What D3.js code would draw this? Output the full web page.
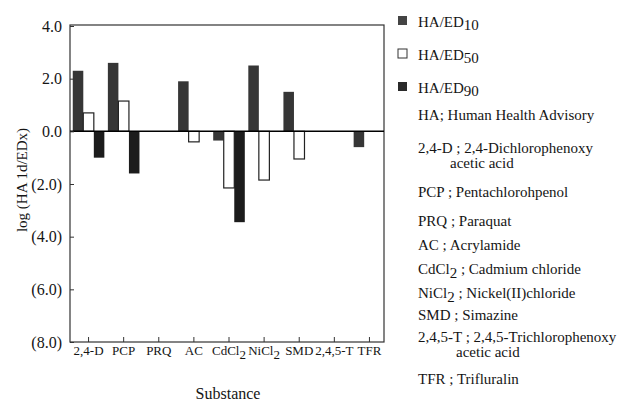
<!DOCTYPE html>
<html>
<head>
<meta charset="utf-8">
<script src="https://cdn.jsdelivr.net/npm/d3@7"></script>
<style>
  body { margin: 0; background: #fff; }
  svg { display: block; font-family: "Liberation Serif", "Times New Roman", serif; }
</style>
</head>
<body>
<div id="chart"></div>
<script>
// DATA
const categories = ["2,4-D", "PCP", "PRQ", "AC", "CdCl2", "NiCl2", "SMD", "2,4,5-T", "TFR"];
const seriesNames = ["ED10", "ED50", "ED90"];
const ed10 = [2.3, 2.6, null, 1.9, -0.35, 2.5, 1.5, null, -0.6];
const ed50 = [0.7, 1.15, null, -0.4, -2.15, -1.85, -1.05, null, null];
const ed90 = [-1.0, -1.6, null, null, -3.45, null, null, null, null];
const yTicks = [4, 2, 0, -2, -4, -6, -8];
const notes = [
  ["HA; Human Health Advisory"],
  ["2,4-D ; 2,4-Dichlorophenoxy", "acetic acid"],
  ["PCP ; Pentachlorohpenol"],
  ["PRQ ; Paraquat"],
  ["AC ; Acrylamide"],
  ["CdCl2 ; Cadmium chloride"],
  ["NiCl2 ; Nickel(II)chloride"],
  ["SMD ; Simazine"],
  ["2,4,5-T ; 2,4,5-Trichlorophenoxy", "acetic acid"],
  ["TFR ; Trifluralin"]
];

const W = 622, H = 404;
const mLeft = 70, mRight = 384, mTop = 25, mBottom = 342;
const ink = "#151515";

const fills = {ED10: "#363636", ED50: "#ffffff", ED90: "#1c1c1c"};
const legendFills = {ED10: "#444", ED50: "#ffffff", ED90: "#2a2a2a"};

const rows = [];
[ed10, ed50, ed90].forEach((arr, si) => {
  arr.forEach((v, i) => {
    if (v !== null) rows.push({cat: categories[i], s: seriesNames[si], v: v});
  });
});

const svg = d3.select("#chart").append("svg")
  .attr("width", W).attr("height", H);

const x0 = d3.scaleBand().domain(categories).range([mLeft + 1, mLeft + 317]).paddingInner(0.1).paddingOuter(0.05);
const x1 = d3.scaleBand().domain(seriesNames).range([0, x0.bandwidth()]);
const y = d3.scaleLinear().domain([-8, 4]).range([mBottom, mTop + 1]);

// helper: text with "Cl2" style subscripts
function subText(sel, str, shift) {
  const m = str.match(/^(.*?Cl)(2)(\s;.*)?$/);
  if (m) {
    sel.append("tspan").text(m[1]);
    sel.append("tspan").attr("dy", shift).text("2");
    if (m[3]) sel.append("tspan").attr("dy", -shift).text(m[3]);
  } else {
    sel.text(str);
  }
}

// bars
svg.append("g").selectAll("rect")
  .data(rows)
  .join("rect")
  .attr("x", d => x0(d.cat) + x1(d.s))
  .attr("width", x1.bandwidth())
  .attr("y", d => y(Math.max(0, d.v)))
  .attr("height", d => Math.abs(y(d.v) - y(0)))
  .attr("fill", d => fills[d.s])
  .attr("stroke", d => d.s === "ED50" ? "#222" : "none")
  .attr("stroke-width", 1.2);

// frame
const frame = svg.append("g").attr("stroke", "#333").attr("fill", "none");
frame.append("rect").attr("x", mLeft).attr("y", mTop).attr("width", mRight - mLeft).attr("height", mBottom - mTop)
  .attr("stroke-width", 1.2);
frame.append("line").attr("x1", mLeft).attr("x2", mRight).attr("y1", y(0)).attr("y2", y(0))
  .attr("stroke", "#000").attr("stroke-width", 1.5);

// y axis
const yAxis = svg.append("g").attr("transform", `translate(${mLeft},0)`)
  .call(d3.axisRight(y).tickValues(yTicks).tickSize(4).tickFormat(""));
yAxis.select(".domain").remove();
yAxis.selectAll("line").attr("stroke", "#333");

svg.append("g").selectAll("text")
  .data(yTicks)
  .join("text")
  .attr("x", 62)
  .attr("y", d => y(d))
  .attr("dy", "0.35em")
  .attr("text-anchor", "end")
  .attr("font-size", 16)
  .attr("fill", ink)
  .text(d => d < 0 ? `(${d3.format(".1f")(-d)})` : d3.format(".1f")(d));

// x axis ticks
const xAxis = svg.append("g").attr("transform", `translate(0,${mBottom})`)
  .call(d3.axisTop(x0).tickSize(5).tickFormat(""));
xAxis.select(".domain").remove();
xAxis.selectAll("line").attr("stroke", "#333");

svg.append("g").selectAll("text")
  .data(categories)
  .join("text")
  .attr("x", d => x0(d) + x0.bandwidth() / 2)
  .attr("y", 355)
  .attr("text-anchor", "middle")
  .attr("font-size", 13)
  .attr("fill", ink)
  .each(function(d) { subText(d3.select(this), d, 4); });

// axis titles
svg.append("text")
  .attr("transform", "translate(27,180) rotate(-90)")
  .attr("text-anchor", "middle")
  .attr("font-size", 15)
  .attr("fill", ink)
  .text("log (HA 1d/EDx)");

svg.append("text")
  .attr("x", 228).attr("y", 399)
  .attr("text-anchor", "middle")
  .attr("font-size", 16)
  .attr("fill", ink)
  .text("Substance");

// legend
const leg = svg.append("g").selectAll("g")
  .data(seriesNames)
  .join("g")
  .attr("transform", (d, i) => `translate(398,${21 + i * 33})`);
leg.append("rect")
  .attr("x", 0).attr("y", -5).attr("width", 9).attr("height", 9)
  .attr("fill", d => legendFills[d])
  .attr("stroke", d => d === "ED50" ? "#333" : "none");
const lt = leg.append("text")
  .attr("x", 20).attr("y", 6)
  .attr("font-size", 15)
  .attr("fill", ink);
lt.append("tspan").text("HA/ED");
lt.append("tspan").attr("dy", 3).text(d => d.slice(2));

// notes
const noteY = [120, 153, 197, 226, 250, 274, 298, 320, 342, 384];
const ng = svg.append("g").attr("font-size", 15).attr("fill", ink);
notes.forEach((lines, i) => {
  const t = ng.append("text").attr("x", 418).attr("y", noteY[i]);
  subText(t, lines[0], 4);
  if (lines[1]) {
    ng.append("text").attr("x", i === 1 ? 450 : 456).attr("y", noteY[i] + 15).text(lines[1]);
  }
});
</script>
</body>
</html>
